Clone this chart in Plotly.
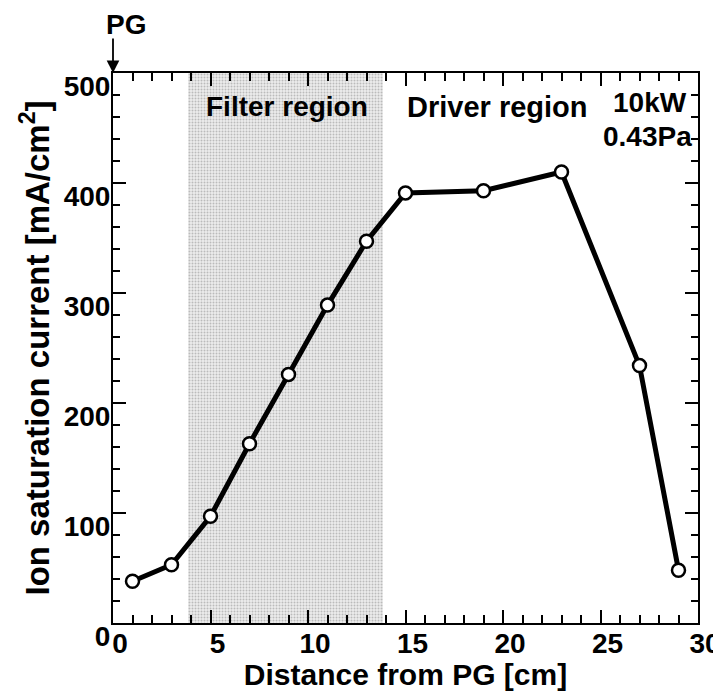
import plotly.graph_objects as go

# Data
distance_cm = [1, 3, 5, 7, 9, 11, 13, 15, 19, 23, 27, 29]
ion_current = [38, 53, 97, 163, 226, 289, 347, 391, 393, 410, 234, 48]

filter_start = 3.85
filter_end = 13.85
y_top = 500

x_ticks = [0, 5, 10, 15, 20, 25, 30]
y_ticks = [0, 100, 200, 300, 400, 500]

FONT = "Liberation Sans"

fig = go.Figure()

# Stippled filter region
fig.add_trace(go.Bar(
    x=[(filter_start + filter_end) / 2],
    y=[y_top],
    width=[filter_end - filter_start],
    base=0,
    marker=dict(
        color="#e6e6e6",
        line=dict(width=0),
        pattern=dict(shape=".", fgcolor="#8a8a8a", bgcolor="#ececec", size=3, solidity=0.35),
    ),
    hoverinfo="skip",
    showlegend=False,
))

fig.add_trace(go.Scatter(
    x=distance_cm,
    y=ion_current,
    mode="lines+markers",
    line=dict(color="black", width=5),
    marker=dict(symbol="circle", size=13, color="white", line=dict(color="black", width=2.5)),
    showlegend=False,
    cliponaxis=False,
))

# page body adds an 8px margin, so the figure is sized to fit inside the window
fig.update_layout(
    width=713,
    height=683,
    margin=dict(l=105, r=23, t=65, b=68),
    paper_bgcolor="white",
    plot_bgcolor="white",
    font=dict(family=FONT, color="black"),
    bargap=0,
)

fig.update_xaxes(
    range=[0, 30],
    tickvals=x_ticks,
    ticktext=[str(v) for v in x_ticks],
    ticks="inside",
    ticklen=13,
    tickwidth=2,
    tickcolor="black",
    minor=dict(dtick=1, ticks="inside", ticklen=8, tickwidth=1.5, tickcolor="black", showgrid=False),
    showline=True,
    linecolor="black",
    linewidth=2,
    mirror="allticks",
    showgrid=False,
    zeroline=False,
    automargin=False,
    tickfont=dict(size=28, family=FONT, weight="bold"),
    ticklabelshift=7,
    ticklabelstandoff=-6,
    ticklabeloverflow="allow",
    title=dict(text="<b>Distance from PG [cm]</b>", font=dict(size=30, family=FONT), standoff=0),
)

fig.update_yaxes(
    range=[0, 500],
    tickvals=y_ticks,
    ticktext=[str(v) for v in y_ticks],
    ticks="inside",
    ticklen=13,
    tickwidth=2,
    tickcolor="black",
    minor=dict(dtick=20, ticks="inside", ticklen=7, tickwidth=1.5, tickcolor="black", showgrid=False),
    showline=True,
    linecolor="black",
    linewidth=2,
    mirror="allticks",
    showgrid=False,
    zeroline=False,
    automargin=False,
    tickfont=dict(size=28, family=FONT, weight="bold"),
    ticklabelshift=13,
    ticklabelstandoff=-5,
    ticklabeloverflow="allow",
    title=dict(text="<b>Ion saturation current [mA/cm<sup>2</sup>]</b>", font=dict(size=33, family=FONT), standoff=4),
)

BOLD = dict(size=28, family=FONT, weight="bold")
annotations = [
    dict(x=0.297, y=0.939, xref="paper", yref="paper", text="Filter region", showarrow=False,
         font=BOLD, xanchor="center", yanchor="middle"),
    dict(x=0.657, y=0.939, xref="paper", yref="paper", text="Driver region", showarrow=False,
         font=dict(size=29, family=FONT, weight="bold"), xanchor="center", yanchor="middle"),
    dict(x=0.9175, y=0.947, xref="paper", yref="paper", text="10kW", showarrow=False,
         font=BOLD, xanchor="center", yanchor="middle"),
    dict(x=0.9132, y=0.884, xref="paper", yref="paper", text="0.43Pa", showarrow=False,
         font=BOLD, xanchor="center", yanchor="middle"),
    dict(x=0.022, y=1.088, xref="paper", yref="paper", text="PG", showarrow=False,
         font=BOLD, xanchor="center", yanchor="middle"),
    dict(x=0, y=y_top, xref="x", yref="y", text="", showarrow=True,
         ax=0, ay=-36, arrowhead=2, arrowsize=1.4, arrowwidth=1.8, arrowcolor="black"),
]
fig.update_layout(annotations=annotations)

fig.write_html("out.html")
